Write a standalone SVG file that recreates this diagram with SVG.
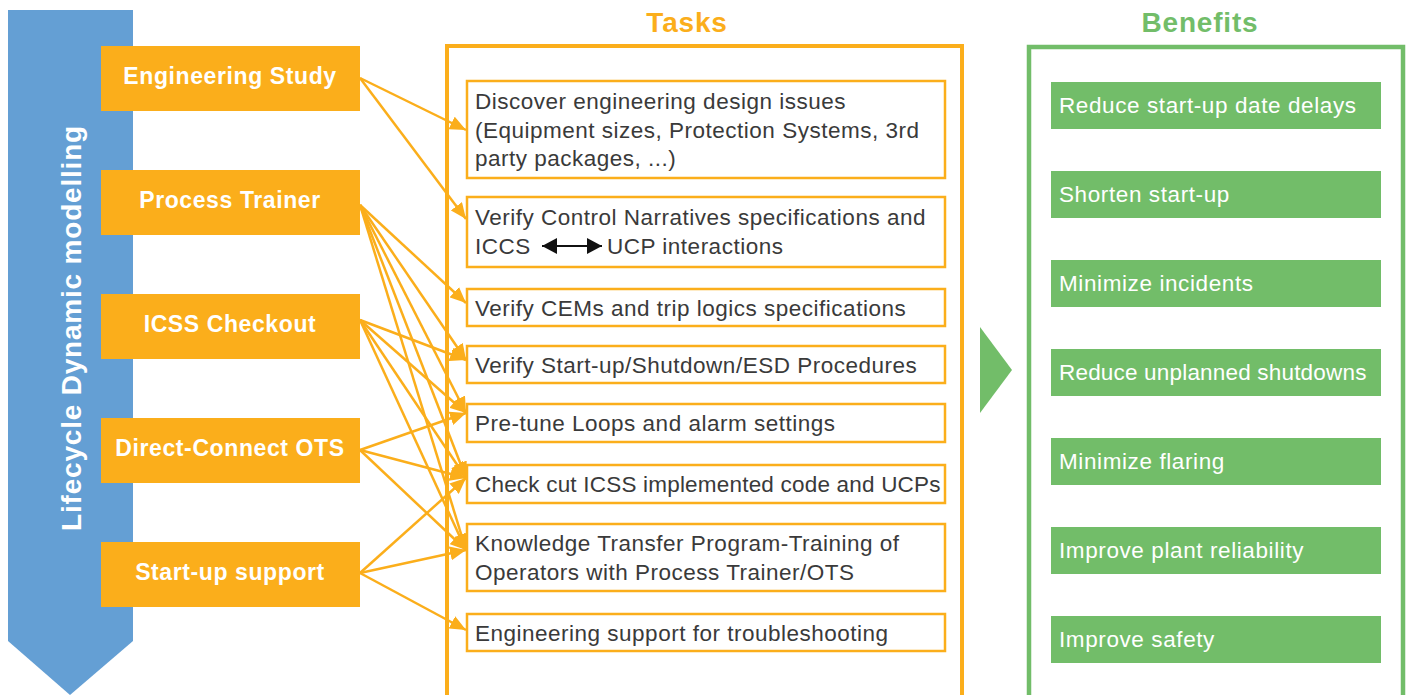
<svg xmlns="http://www.w3.org/2000/svg" width="1410" height="695" viewBox="0 0 1410 695">
<defs>
<style>
.ob{fill:#FBAE1B}
.ol{fill:#fff;font-family:"Liberation Sans",Arial,sans-serif;font-weight:bold;font-size:23px;letter-spacing:0.6px;text-anchor:middle}
.tb{fill:#fff;stroke:#FBAE1B;stroke-width:2.5}
.tt{fill:#3a3a3a;font-family:"Liberation Sans",Arial,sans-serif;font-size:22.5px;letter-spacing:0.5px}
.gb{fill:#72BD69}
.gt{fill:#fff;font-family:"Liberation Sans",Arial,sans-serif;font-size:22.5px;letter-spacing:0.6px}
.cn{stroke:#FBAE1B;stroke-width:2.5;fill:none;marker-end:url(#ah)}
.ti{font-family:"Liberation Sans",Arial,sans-serif;font-weight:bold;font-size:28px;letter-spacing:0.8px;text-anchor:middle}
</style>
<marker id="ah" markerUnits="userSpaceOnUse" markerWidth="18" markerHeight="14" refX="16" refY="7" orient="auto">
<path d="M0,0 L16,7 L0,14 Z" fill="#FBAE1B"/>
</marker>
<marker id="bk" markerUnits="userSpaceOnUse" markerWidth="16" markerHeight="16" refX="15" refY="8" orient="auto-start-reverse">
<path d="M0,0 L15,8 L0,16 Z" fill="#111"/>
</marker>
</defs>
<rect width="1410" height="695" fill="#fff"/>

<g id="lifecycle">
<path d="M8,10 H133 V641 L70,695 L8,641 Z" fill="#649FD4"/>
<text transform="translate(71,328) rotate(-90)" fill="#fff" font-family="'Liberation Sans',Arial,sans-serif" font-weight="bold" font-size="28" letter-spacing="0.8" text-anchor="middle" dominant-baseline="central">Lifecycle Dynamic modelling</text>
</g>

<g id="tasks-frame">
<rect x="447" y="46" width="515" height="700" fill="none" stroke="#FBAE1B" stroke-width="4"/>
<text class="ti" x="687" y="32" fill="#FBAE1B">Tasks</text>
</g>
<g id="benefits-frame">
<rect x="1029" y="47" width="374" height="700" fill="none" stroke="#72BD69" stroke-width="4.5"/>
<text class="ti" x="1200" y="32" fill="#72BD69">Benefits</text>
</g>
<g id="flow-arrow"><path d="M980,327 L1012,370 L980,413 Z" fill="#72BD69"/></g>

<g id="connectors">
<line class="cn" x1="360" y1="78" x2="466" y2="130"/>
<line class="cn" x1="360" y1="78" x2="466" y2="219"/>
<line class="cn" x1="360" y1="205" x2="466" y2="303"/>
<line class="cn" x1="360" y1="205" x2="466" y2="360"/>
<line class="cn" x1="360" y1="205" x2="466" y2="413"/>
<line class="cn" x1="360" y1="205" x2="466" y2="478"/>
<line class="cn" x1="360" y1="205" x2="466" y2="550"/>
<line class="cn" x1="360" y1="320" x2="466" y2="360"/>
<line class="cn" x1="360" y1="320" x2="466" y2="413"/>
<line class="cn" x1="360" y1="320" x2="466" y2="478"/>
<line class="cn" x1="360" y1="320" x2="466" y2="550"/>
<line class="cn" x1="360" y1="450" x2="466" y2="413"/>
<line class="cn" x1="360" y1="450" x2="466" y2="478"/>
<line class="cn" x1="360" y1="450" x2="466" y2="550"/>
<line class="cn" x1="360" y1="573" x2="466" y2="478"/>
<line class="cn" x1="360" y1="573" x2="466" y2="550"/>
<line class="cn" x1="360" y1="573" x2="466" y2="630"/>
</g>

<g id="engineering-study"><rect class="ob" x="101" y="46" width="259" height="65"/><text class="ol" x="230" y="84">Engineering Study</text></g>
<g id="process-trainer"><rect class="ob" x="101" y="170" width="259" height="65"/><text class="ol" x="230" y="208">Process Trainer</text></g>
<g id="icss-checkout"><rect class="ob" x="101" y="294" width="259" height="65"/><text class="ol" x="230" y="332">ICSS Checkout</text></g>
<g id="direct-connect-ots"><rect class="ob" x="101" y="418" width="259" height="65"/><text class="ol" x="230" y="456">Direct-Connect OTS</text></g>
<g id="startup-support"><rect class="ob" x="101" y="542" width="259" height="65"/><text class="ol" x="230" y="580">Start-up support</text></g>

<g id="task1"><rect class="tb" x="467" y="81" width="478" height="97"/>
<text class="tt" x="475" y="109">Discover engineering design issues</text>
<text class="tt" x="475" y="138">(Equipment sizes, Protection Systems, 3rd</text>
<text class="tt" x="475" y="166">party packages, ...)</text></g>
<g id="task2"><rect class="tb" x="467" y="197" width="478" height="70"/>
<text class="tt" x="475" y="225">Verify Control Narratives specifications and</text>
<text class="tt" x="475" y="254">ICCS</text>
<line x1="542" y1="246" x2="602" y2="246" stroke="#111" stroke-width="2" marker-start="url(#bk)" marker-end="url(#bk)"/>
<text class="tt" x="607" y="254">UCP interactions</text></g>
<g id="task3"><rect class="tb" x="467" y="289" width="478" height="37"/><text class="tt" x="475" y="316">Verify CEMs and trip logics specifications</text></g>
<g id="task4"><rect class="tb" x="467" y="346" width="478" height="37"/><text class="tt" x="475" y="373">Verify Start-up/Shutdown/ESD Procedures</text></g>
<g id="task5"><rect class="tb" x="467" y="404" width="478" height="38"/><text class="tt" x="475" y="431">Pre-tune Loops and alarm settings</text></g>
<g id="task6"><rect class="tb" x="467" y="465" width="478" height="38"/><text class="tt" x="475" y="492" textLength="466" lengthAdjust="spacing">Check cut ICSS implemented code and UCPs</text></g>
<g id="task7"><rect class="tb" x="467" y="524" width="478" height="67"/>
<text class="tt" x="475" y="551">Knowledge Transfer Program-Training of</text>
<text class="tt" x="475" y="580">Operators with Process Trainer/OTS</text></g>
<g id="task8"><rect class="tb" x="467" y="614" width="478" height="37"/><text class="tt" x="475" y="641">Engineering support for troubleshooting</text></g>

<g id="benefit1"><rect class="gb" x="1051" y="82" width="330" height="47"/><text class="gt" x="1059" y="113">Reduce start-up date delays</text></g>
<g id="benefit2"><rect class="gb" x="1051" y="171" width="330" height="47"/><text class="gt" x="1059" y="202">Shorten start-up</text></g>
<g id="benefit3"><rect class="gb" x="1051" y="260" width="330" height="47"/><text class="gt" x="1059" y="291">Minimize incidents</text></g>
<g id="benefit4"><rect class="gb" x="1051" y="349" width="330" height="47"/><text class="gt" x="1059" y="380" textLength="308" lengthAdjust="spacing">Reduce unplanned shutdowns</text></g>
<g id="benefit5"><rect class="gb" x="1051" y="438" width="330" height="47"/><text class="gt" x="1059" y="469">Minimize flaring</text></g>
<g id="benefit6"><rect class="gb" x="1051" y="527" width="330" height="47"/><text class="gt" x="1059" y="558">Improve plant reliability</text></g>
<g id="benefit7"><rect class="gb" x="1051" y="616" width="330" height="47"/><text class="gt" x="1059" y="647">Improve safety</text></g>
</svg>
